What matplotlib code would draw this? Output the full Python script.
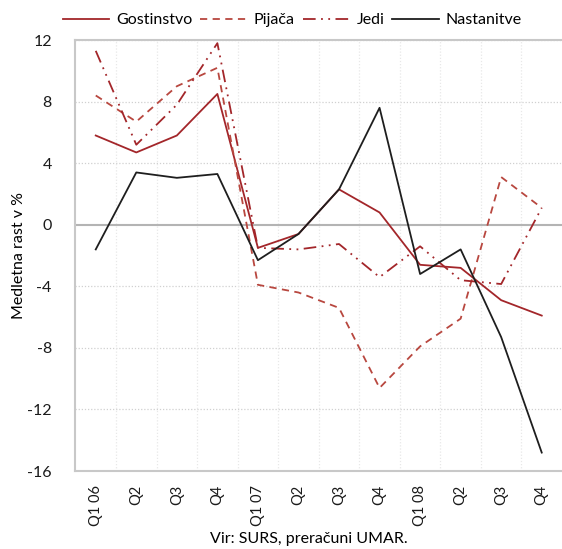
import numpy as np
import matplotlib.pyplot as plt

plt.rcParams['font.family'] = ['Lato', 'DejaVu Sans']
plt.rcParams['axes.unicode_minus'] = False

# Podatki
cetrtletja = ['Q1 06', 'Q2', 'Q3', 'Q4', 'Q1 07', 'Q2', 'Q3', 'Q4', 'Q1 08', 'Q2', 'Q3', 'Q4']
gostinstvo = [5.8, 4.7, 5.8, 8.5, -1.5, -0.6, 2.3, 0.8, -2.6, -2.8, -4.9, -5.9]
pijaca = [8.4, 6.7, 9.0, 10.2, -3.9, -4.4, -5.4, -10.6, -7.9, -6.1, 3.1, 1.1]
jedi = [11.3, 5.2, 7.8, 11.8, -1.5, -1.6, -1.25, -3.4, -1.4, -3.6, -3.85, 1.1]
nastanitve = [-1.6, 3.4, 3.05, 3.3, -2.3, -0.6, 2.3, 7.6, -3.2, -1.6, -7.3, -14.8]

x = np.arange(len(cetrtletja))
fs = 11.5

fig = plt.figure(figsize=(5.62, 5.49), dpi=100)
ax = fig.add_axes([0.1343, 0.142, 0.8657, 0.785])

# Mreža
for v in np.arange(-16, 13, 4):
    if v != 0:
        ax.axhline(v, color='#d0d0d0', lw=0.9, ls=(0, (1, 1.5)), zorder=0)
for b in np.arange(0.5, 11.5, 1):
    ax.axvline(b, color='#e8e8e8', lw=0.9, ls=(0, (1, 1.5)), zorder=0)
ax.axhline(0, color='#b4b4b4', lw=1.5, zorder=1)

ax.plot(x, gostinstvo, color='#a3262a', lw=1.3, label='Gostinstvo')
ax.plot(x, pijaca, color='#b8473f', lw=1.3, ls=(0, (4, 3)), label='Pijača')
ax.plot(x, jedi, color='#a3262a', lw=1.3, ls=(0, (7, 3, 1, 3, 1, 3)), label='Jedi')
ax.plot(x, nastanitve, color='#1e1e1e', lw=1.3, label='Nastanitve')

ax.set_xlim(-0.5, 11.5)
ax.set_ylim(-16, 12)
ax.set_yticks(np.arange(-16, 13, 4))
ax.set_xticks(x)
ax.set_xticklabels(cetrtletja, rotation=90, fontsize=10.5)
ax.tick_params(axis='y', labelsize=fs)
ax.tick_params(axis='both', length=0, colors='#1a1a1a')
ax.tick_params(axis='x', pad=10)
ax.tick_params(axis='y', pad=17)

for s in ['left', 'top', 'bottom']:
    ax.spines[s].set_color('#c8c8c8')
    ax.spines[s].set_linewidth(1.5)
ax.spines['right'].set_visible(False)

ax.set_ylabel('Medletna rast v %', fontsize=fs, labelpad=1)
fig.text(0.55, 0.005, 'Vir: SURS, preračuni UMAR.', ha='center', va='bottom', fontsize=fs)

fig.legend(loc='center', bbox_to_anchor=(0.52, 0.963), ncol=4, frameon=False,
           fontsize=fs, handlelength=2.9, handletextpad=0.45, columnspacing=0.5,
           borderaxespad=0.0)

plt.savefig('out.png', dpi=100)
